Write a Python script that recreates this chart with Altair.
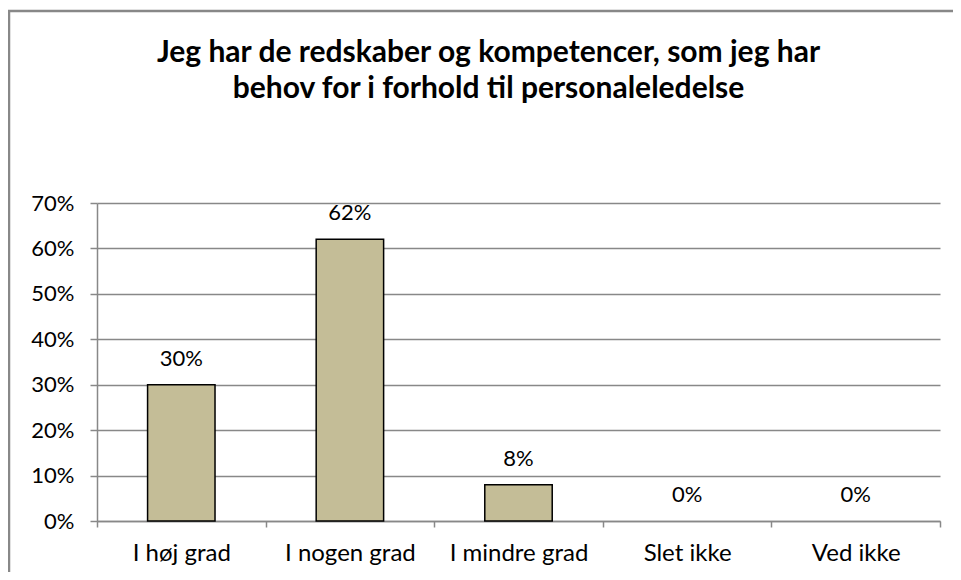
import altair as alt
import pandas as pd

categories = ["I høj grad", "I nogen grad", "I mindre grad", "Slet ikke", "Ved ikke"]
values = [0.30, 0.62, 0.08, 0.0, 0.0]
title_lines = ["Jeg har de redskaber og kompetencer, som jeg har",
               "behov for i forhold til personaleledelse"]

df = pd.DataFrame({"cat": categories, "val": values})
FONT = "Lato"

x = alt.X("cat:N", sort=categories, title=None,
          scale=alt.Scale(paddingInner=0, paddingOuter=0),
          axis=alt.Axis(labelAngle=0, tickBand="extent", labelFontSize=24,
                        labelFont=FONT, labelColor="black", labelPadding=14,
                        domainColor="#888888", tickColor="#888888", tickSize=6,
                        domainWidth=1.5, tickWidth=1.5, grid=False))
y = alt.Y("val:Q", title=None,
          scale=alt.Scale(domain=[0, 0.7], nice=False),
          axis=alt.Axis(format=".0%", values=[0, 0.1, 0.2, 0.3, 0.4, 0.5, 0.6, 0.7],
                        labelFontSize=22, labelFont=FONT, labelColor="black",
                        labelPadding=16, tickSize=7, tickColor="#888888",
                        domainColor="#888888", gridColor="#888888",
                        domainWidth=1.5, tickWidth=1.5, gridWidth=1.5))

base = alt.Chart(df)
bars = base.mark_bar(width={"band": 0.4}, color="#c4bd97", stroke="black",
                     strokeWidth=1.5).encode(x=x, y=y).transform_filter("datum.val > 0")
labels = base.mark_text(dy=-19, baseline="alphabetic", fontSize=22, font=FONT,
                        color="black").encode(x=x, y=y, text=alt.Text("val:Q", format=".0%"))

one = alt.Chart(pd.DataFrame({"f": [0]}))
frame_left = one.mark_rule(stroke="#888888", strokeWidth=2.5).encode(
    x=alt.value(-88), y=alt.value(-193), y2=alt.value(369))
frame_top = one.mark_rule(stroke="#888888", strokeWidth=2.5).encode(
    x=alt.value(-89), x2=alt.value(856), y=alt.value(-192))

chart = alt.layer(frame_left, frame_top, bars, labels).properties(
    width=843, height=318,
    autosize=alt.AutoSizeParams(type="none"),
    padding={"left": 89, "top": 195, "right": 13, "bottom": 51},
    title=alt.TitleParams(title_lines, font=FONT, fontSize=30, fontWeight="bold",
                          color="black", anchor="middle", frame="group",
                          dx=-30, offset=-95, lineHeight=36),
).configure_view(stroke=None)

chart.save("out.html", embed_options={"renderer": "svg", "actions": False})
